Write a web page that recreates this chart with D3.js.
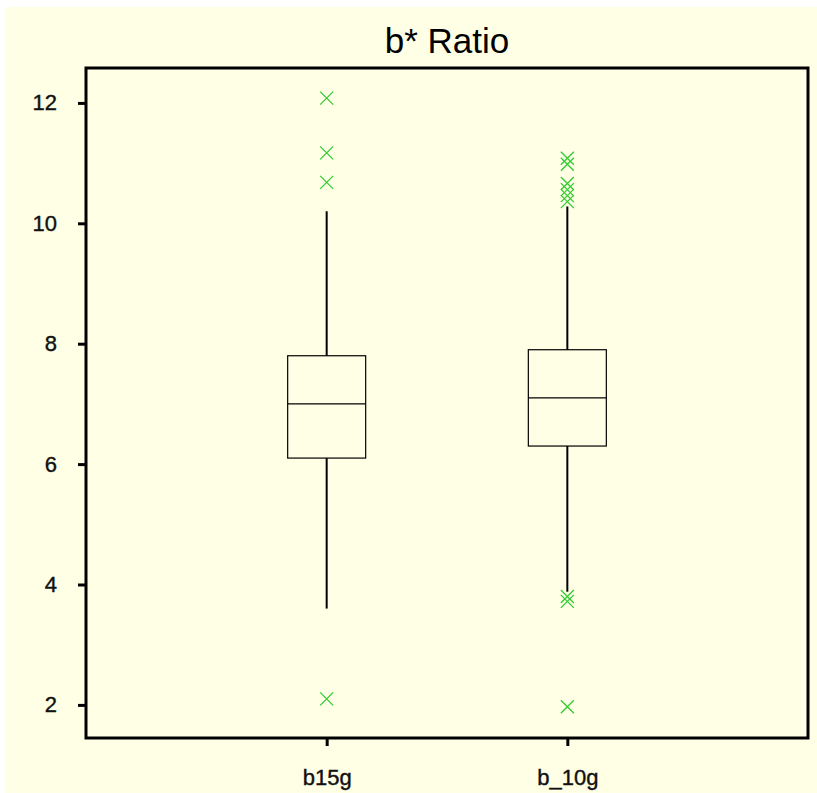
<!DOCTYPE html>
<html>
<head>
<meta charset="utf-8">
<script src="https://cdn.jsdelivr.net/npm/d3@7"></script>
<style>
body { margin: 0; background: #ffffff; }
</style>
</head>
<body>
<div id="mainContainer"></div>
<script>
var categories = ["b15g", "b_10g"];
var q1Values = [6.1, 6.3];
var medianValues = [7.0, 7.1];
var q3Values = [7.8, 7.9];
var whiskerLow = [3.6, 3.88];
var whiskerHigh = [10.2, 10.28];
var outliers = [
    [12.08, 11.17, 10.68, 2.1],
    [11.08, 10.98, 10.66, 10.56, 10.46, 10.36, 3.8, 3.72, 1.97]
];
var yTicks = [2, 4, 6, 8, 10, 12];

var width = 817, height = 793;
var margin = { top: 68, right: 9, bottom: 55, left: 86 };
var plotW = width - margin.left - margin.right,
    plotH = height - margin.top - margin.bottom;

var svg = d3.select('#mainContainer').append('svg')
    .attr('width', width)
    .attr('height', height);

svg.append('rect')
    .attr('x', 5).attr('y', 7)
    .attr('width', width - 5).attr('height', height - 7)
    .attr('fill', '#ffffe6');

svg.append('text')
    .attr('x', margin.left + plotW / 2)
    .attr('y', 53)
    .attr('text-anchor', 'middle')
    .attr('font-family', 'Liberation Sans, Arial, sans-serif')
    .attr('font-size', '35px')
    .attr('fill', 'black')
    .text('b* Ratio');

var g = svg.append('g')
    .attr('transform', 'translate(' + margin.left + ',' + margin.top + ')');

var xscale = d3.scaleLinear().domain([0, 3]).range([0, plotW]);
var yscale = d3.scaleLinear().domain([1.45, 12.58]).range([plotH, 0]);

var yAxis = g.append('g')
    .call(d3.axisLeft(yscale).tickValues(yTicks).tickSize(8).tickPadding(21).tickFormat(d3.format('d')));
yAxis.select('.domain').remove();
yAxis.selectAll('line').attr('stroke-width', 3);
yAxis.selectAll('text')
    .attr('font-family', 'Liberation Sans, Arial, sans-serif')
    .attr('font-size', '22px')
    .attr('fill', '#111')
    .attr('stroke', '#111').attr('stroke-width', 0.4);

var xAxis = g.append('g')
    .attr('transform', 'translate(0,' + plotH + ')')
    .call(d3.axisBottom(xscale).tickValues([1, 2]).tickSize(8).tickPadding(23)
        .tickFormat(function (d) { return categories[d - 1]; }));
xAxis.select('.domain').remove();
xAxis.selectAll('line').attr('stroke-width', 3);
xAxis.selectAll('text')
    .attr('font-family', 'Liberation Sans, Arial, sans-serif')
    .attr('font-size', '22px')
    .attr('fill', '#111')
    .attr('stroke', '#111').attr('stroke-width', 0.4);

g.append('rect')
    .attr('x', 0).attr('y', 0)
    .attr('width', plotW).attr('height', plotH)
    .attr('fill', 'none')
    .attr('stroke', 'black')
    .attr('stroke-width', 3);

var boxW = 78;
categories.forEach(function (c, i) {
    var cx = xscale(i + 1);
    g.append('line')
        .attr('x1', cx).attr('x2', cx)
        .attr('y1', yscale(whiskerHigh[i])).attr('y2', yscale(q3Values[i]))
        .attr('stroke', 'black').attr('stroke-width', 2);
    g.append('line')
        .attr('x1', cx).attr('x2', cx)
        .attr('y1', yscale(q1Values[i])).attr('y2', yscale(whiskerLow[i]))
        .attr('stroke', 'black').attr('stroke-width', 2);
    g.append('rect')
        .attr('x', cx - boxW / 2)
        .attr('y', yscale(q3Values[i]))
        .attr('width', boxW)
        .attr('height', yscale(q1Values[i]) - yscale(q3Values[i]))
        .attr('fill', 'none')
        .attr('stroke', 'black').attr('stroke-width', 1.2);
    g.append('line')
        .attr('x1', cx - boxW / 2).attr('x2', cx + boxW / 2)
        .attr('y1', yscale(medianValues[i])).attr('y2', yscale(medianValues[i]))
        .attr('stroke', 'black').attr('stroke-width', 1.2);

    var s = 6.5;
    g.append('g').selectAll('path')
        .data(outliers[i])
        .enter()
        .append('path')
        .attr('d', function (d) {
            var y = yscale(d);
            return 'M' + (cx - s) + ',' + (y - s) + 'L' + (cx + s) + ',' + (y + s) +
                'M' + (cx - s) + ',' + (y + s) + 'L' + (cx + s) + ',' + (y - s);
        })
        .attr('stroke', '#33cc33')
        .attr('stroke-width', 1.3)
        .attr('fill', 'none');
});
</script>
</body>
</html>
